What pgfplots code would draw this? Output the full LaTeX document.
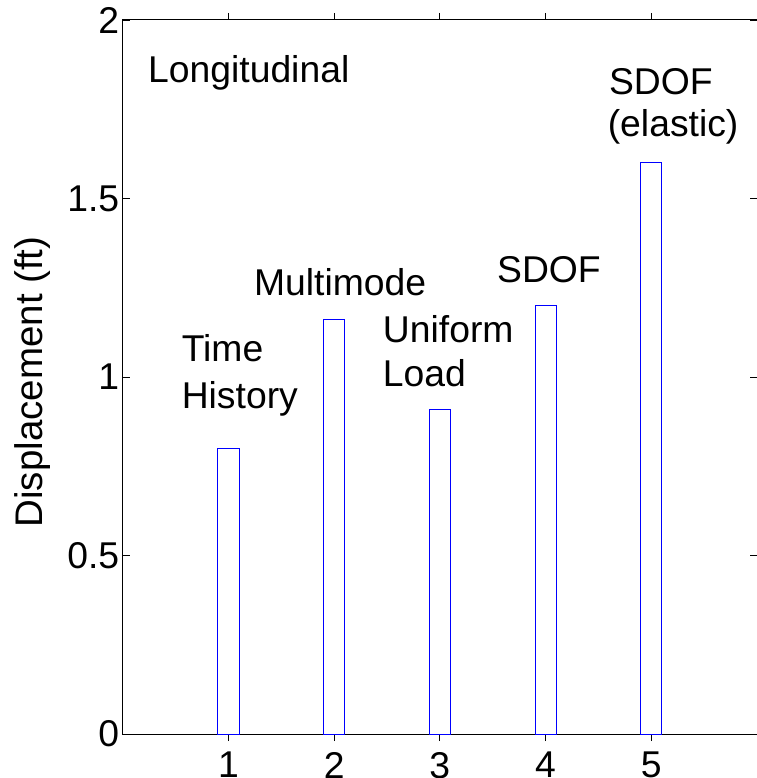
\documentclass[border=0pt]{standalone}
\usepackage{pgfplots}
\pgfplotsset{compat=1.18}
\usepackage{fontspec}
\setmainfont{Liberation Sans}
\usetikzlibrary{calc}
\begin{document}
\begin{tikzpicture}[font=\fontsize{37.3bp}{44bp}\selectfont]
\begin{axis}[
  scale only axis=true,
  width=634.3bp, height=714bp,
  xmin=0, xmax=6, ymin=0, ymax=2,
  xtick={1,2,3,4,5},
  ytick={0,0.5,1,1.5,2},
  yticklabels={0,0.5,1,1.5,2},
  /pgf/number format/assume math mode=true,
  tick align=inside,
  major tick length=7bp,
  tick style={black, line width=0.8bp},
  axis line style={black, line width=1bp},
  xticklabel style={yshift=-7.5bp},
  ylabel={Displacement (ft)},
  ylabel style={at={(axis description cs:-0.1257,0.493)}, anchor=base, font=\fontsize{38.5bp}{44bp}\selectfont},
  clip=false,
  ybar, bar width=0.2,
]
\addplot[draw=blue, fill=white, line width=0.9bp] coordinates {(1,0.8) (2,1.16) (3,0.91) (4,1.2) (5,1.6)};
\node[anchor=base west, inner sep=0] at (axis cs:0.239,1.824) {Longitudinal};
\node[anchor=base west, inner sep=0] at (axis cs:0.557,1.043) {Time};
\node[anchor=base west, inner sep=0] at (axis cs:0.557,0.912) {History};
\node[anchor=base west, inner sep=0] at (axis cs:1.241,1.227) {Multimode};
\node[anchor=base west, inner sep=0] at (axis cs:2.460,1.096) {Uniform};
\node[anchor=base west, inner sep=0] at (axis cs:2.460,0.972) {Load};
\node[anchor=base west, inner sep=0] at (axis cs:3.540,1.264) {SDOF};
\node[anchor=base west, inner sep=0] at (axis cs:4.599,1.790) {SDOF};
\node[anchor=base west, inner sep=0] at (axis cs:4.587,1.673) {(elastic)};
\end{axis}
\pgfresetboundingbox
\path[use as bounding box] ($(current axis.south west)+(-122.7bp,-44bp)$) rectangle ($(current axis.north east)+(0bp,20bp)$);
\end{tikzpicture}
\end{document}
